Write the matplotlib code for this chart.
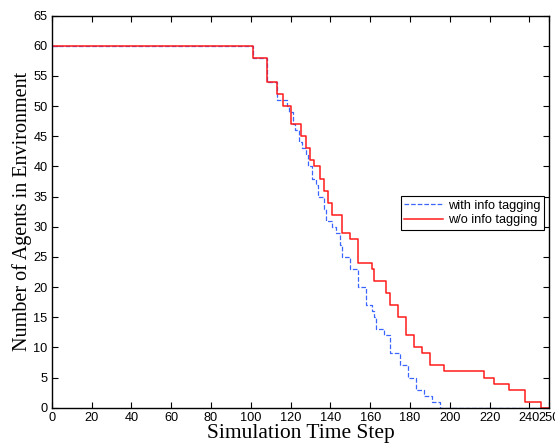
import numpy as np
import matplotlib.pyplot as plt

# step data: time of change -> number of agents after it
t_with = [0, 101, 108, 113, 118, 119, 121, 122, 124, 126, 128, 129, 131, 133, 134,
          137, 138, 141, 143, 145, 146, 150, 154, 158, 161, 162, 163, 167, 170, 175,
          179, 183, 187, 191, 195, 250]
n_with = [60, 58, 54, 51, 50, 49, 47, 46, 44, 43, 42, 40, 38, 37, 35,
          33, 31, 30, 29, 27, 25, 23, 20, 17, 16, 15, 13, 12, 9, 7,
          5, 3, 2, 1, 0, 0]

t_wo = [0, 101, 108, 113, 116, 120, 125, 128, 130, 132, 135, 137, 139, 141, 146,
        150, 154, 161, 162, 168, 170, 174, 178, 182, 186, 190, 197, 217, 222, 230,
        238, 246, 250]
n_wo = [60, 58, 54, 52, 50, 47, 45, 43, 41, 40, 38, 36, 34, 32, 29,
        28, 24, 23, 21, 19, 17, 15, 12, 10, 9, 7, 6, 5, 4, 3,
        1, 0, 0]

fig = plt.figure(figsize=(5.55, 4.48), dpi=100)
ax = fig.add_axes([0.0932, 0.09, 0.8965, 0.875])

ax.step(t_with, n_with, where='post', color='#3a66ff', ls='--', lw=0.9,
        label='with info tagging')
ax.step(t_wo, n_wo, where='post', color='#ff1a1a', lw=1.1,
        label='w/o info tagging')

ax.set_xlim(0, 250)
ax.set_ylim(0, 65)
ax.set_xticks(np.arange(0, 251, 20).tolist() + [250])
ax.set_yticks(np.arange(0, 66, 5))
ax.tick_params(direction='in', top=True, right=True, length=4, width=0.8,
               labelsize=9.2, pad=3)
for lab in ax.get_xticklabels() + ax.get_yticklabels():
    lab.set_family('Liberation Sans')
for s in ax.spines.values():
    s.set_linewidth(1.0)

ax.set_xlabel('Simulation Time Step', family='Liberation Serif', fontsize=15.5,
              labelpad=0)
ax.set_ylabel('Number of Agents in Environment', family='Liberation Serif',
              fontsize=14.5, labelpad=1)

leg = ax.legend(loc='lower left', bbox_to_anchor=(0.701, 0.453),
                borderaxespad=0, fancybox=False, framealpha=1,
                edgecolor='black', prop={'family': 'Liberation Sans', 'size': 9.2},
                handlelength=3.0, handletextpad=0.4, borderpad=0.3,
                labelspacing=0.2)
leg.get_frame().set_linewidth(0.8)

fig.savefig('out.png', dpi=100)
